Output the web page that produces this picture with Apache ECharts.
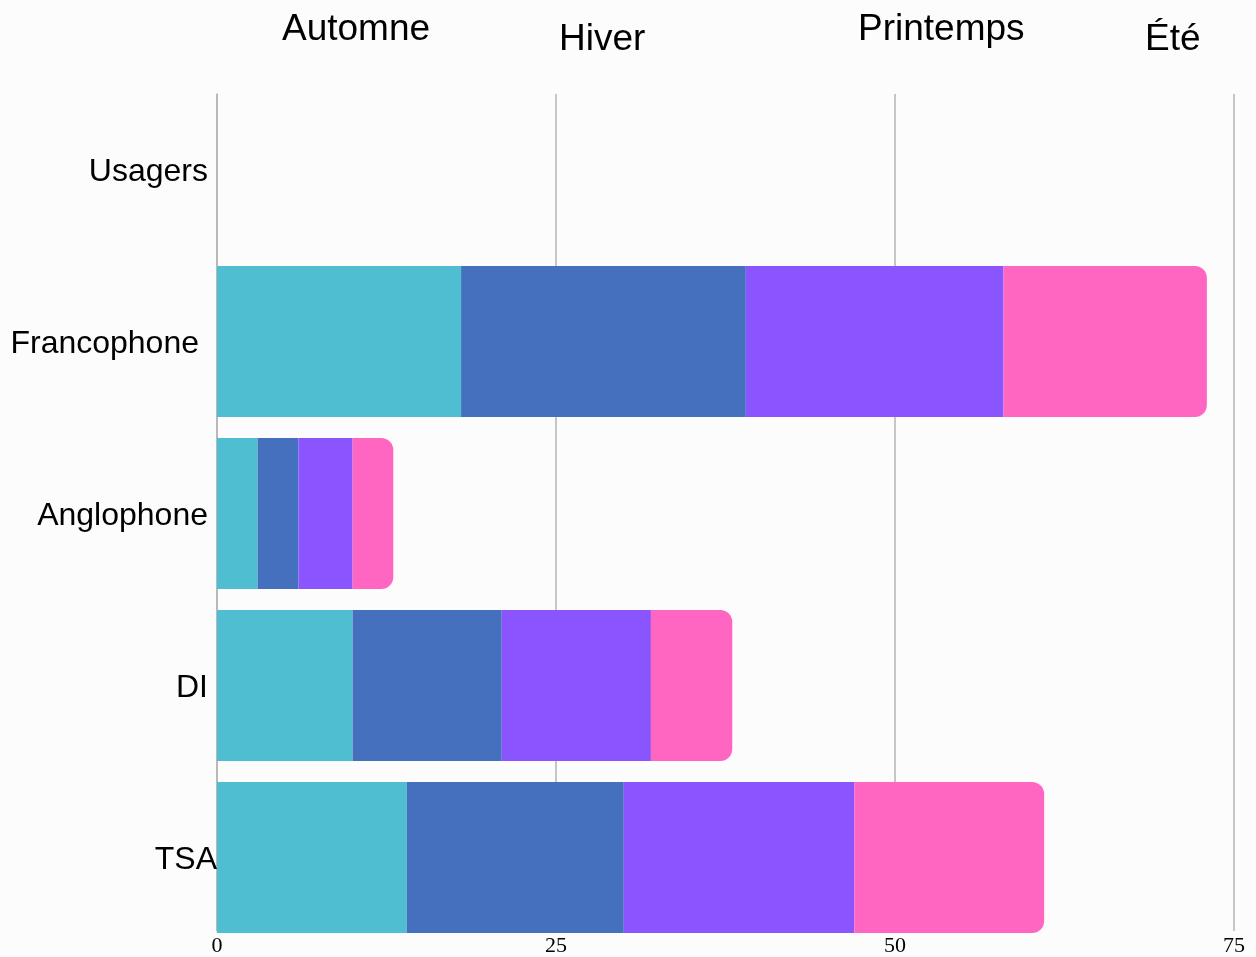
<!DOCTYPE html>
<html>
<head>
<meta charset="utf-8">
<script src="https://cdn.jsdelivr.net/npm/echarts@6/dist/echarts.min.js"></script>
<style>
html,body{margin:0;padding:0;background:#fcfcfc;}
#chart{width:1256px;height:957px;}
</style>
</head>
<body>
<div id="chart"></div>
<script>
const categories = ['Usagers', 'Francophone', 'Anglophone', 'DI', 'TSA'];
const seasons = ['Automne', 'Hiver', 'Printemps', 'Été'];
const automne   = [null, 18, 3, 10, 14];
const hiver     = [null, 21, 3, 11, 16];
const printemps = [null, 19, 4, 11, 17];
const ete       = [null, 15, 3, 6, 14];
const xTicks = [0, 25, 50, 75];
const colors = ['#4FBED0', '#4470BD', '#8A55FF', '#FF66C2'];

const seriesValues = [automne, hiver, printemps, ete];
const labelStyleKey = {Usagers: 'n', Francophone: 'w', Anglophone: 'n', DI: 'n', TSA: 'z'};

const chart = echarts.init(document.getElementById('chart'), null, {renderer: 'canvas'});

const legendPos = [
  {left: 277, top: 11},
  {left: 554, top: 21},
  {left: 853, top: 11},
  {left: 1140, top: 21}
];

const labelFont = {fontFamily: 'Liberation Sans', fontSize: 32, color: '#000'};

const option = {
  backgroundColor: '#fcfcfc',
  animation: false,
  color: colors,
  legend: seasons.map((s, i) => ({
    data: [s],
    left: legendPos[i].left,
    top: legendPos[i].top,
    icon: 'none',
    itemWidth: 0,
    itemHeight: 0,
    padding: 0,
    selectedMode: false,
    textStyle: {fontFamily: 'Liberation Sans', fontSize: 37, color: '#000'}
  })),
  grid: [
    {left: 217, right: 22, top: 83.5, height: 860, containLabel: false},
    {left: 217, right: 22, top: 94, bottom: 24, containLabel: false}
  ],
  xAxis: [
    {gridIndex: 0, type: 'value', min: 0, max: 75, interval: 25,
     axisLine: {show: false}, axisTick: {show: false}, axisLabel: {show: false}, splitLine: {show: false}},
    {gridIndex: 1, type: 'value', min: 0, max: 75, interval: 25,
     data: xTicks,
     axisLine: {show: false}, axisTick: {show: false},
     axisLabel: {show: true, margin: 4, fontFamily: 'Liberation Serif', fontSize: 22, color: '#000'},
     splitLine: {show: true, lineStyle: {color: '#b4b4b4', width: 1.5}}}
  ],
  yAxis: [
    {gridIndex: 0, type: 'category', inverse: true,
     data: categories,
     axisLine: {show: false}, axisTick: {show: false},
     axisLabel: {
       margin: 0,
       ...labelFont,
       formatter: v => '{' + labelStyleKey[v] + '|' + v + '}',
       rich: {
         n: {...labelFont, padding: [5, 9, 0, 0]},
         w: {...labelFont, padding: [5, 18, 0, 0]},
         z: {...labelFont, padding: [5, 0, 0, 0]}
       }
     },
     splitLine: {show: false}},
    {gridIndex: 1, type: 'value', min: 0, max: 1,
     axisLine: {show: true, onZero: false, lineStyle: {color: '#b4b4b4', width: 1.5}},
     axisTick: {show: false}, axisLabel: {show: false}, splitLine: {show: false}}
  ],
  series: seasons.map((s, i) => ({
    name: s,
    type: 'bar',
    stack: 'total',
    xAxisIndex: 0,
    yAxisIndex: 0,
    barWidth: 151,
    data: seriesValues[i],
    itemStyle: {color: colors[i], borderRadius: i === 3 ? [0, 12, 12, 0] : 0}
  }))
};
chart.setOption(option);
</script>
</body>
</html>
